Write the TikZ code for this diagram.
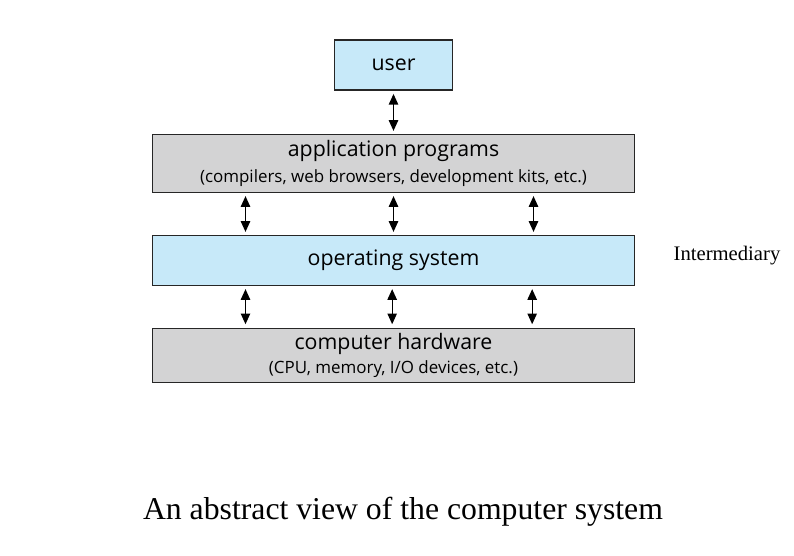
\documentclass[tikz,border=0pt]{standalone}
\usepackage{fontspec}
\setmainfont{Liberation Serif}
\newfontfamily\boxfont{Open Sans}
\usetikzlibrary{positioning,arrows.meta}
\definecolor{layerblue}{RGB}{199,233,249}
\definecolor{layergray}{RGB}{211,211,212}
\tikzset{layer/.style={draw=black!85,line width=0.9pt,minimum width=362pt,align=center,font=\boxfont\fontsize{16}{17}\selectfont},
         blue layer/.style={layer,fill=layerblue},
         gray layer/.style={layer,fill=layergray},
         link/.style={{Triangle[length=8pt,width=7pt]}-{Triangle[length=8pt,width=7pt]},line width=1pt,shorten <=2.5pt,shorten >=2.5pt},
         }
\newcommand{\sublabel}[1]{{\fontsize{12.7}{14}\selectfont #1}}

\begin{document}
\begin{tikzpicture}[x=0.75pt,y=-0.75pt]
    \useasboundingbox (0,0) rectangle (794,556);
    \node[blue layer,minimum width=89pt,minimum height=37.5pt] (user) at (393.5,65) {\raisebox{-1.5pt}{user}};
    \node[gray layer,minimum height=43pt] (apps) at (393.5,163.5) {application programs\\[3pt]\sublabel{(compilers, web browsers, development kits, etc.)}};
    \node[blue layer,minimum height=37pt] (os) at (393.5,260.5) {operating system};
    \node[gray layer,minimum height=41pt] (hw) at (393.5,355.5) {computer hardware\\[1pt]\sublabel{(CPU, memory, I/O devices, etc.)}};

    \node[font=\fontsize{15.5}{17}\selectfont] (mid) at (727,256) {Intermediary};
    \node[font=\fontsize{23.8}{26}\selectfont] (caption) at (403,512) {An abstract view of the computer system};

    \draw[link] (user) -- (apps);
    \draw[link] ([xshift=-111pt]apps.south) -- ([xshift=-111pt]os.north);
    \draw[link] (apps) -- (os);
    \draw[link] ([xshift=105pt]apps.south) -- ([xshift=105pt]os.north);
    \draw[link] ([xshift=-111pt]os.south) -- ([xshift=-111pt]hw.north);
    \draw[link] ([xshift=-1pt]os.south) -- ([xshift=-1pt]hw.north);
    \draw[link] ([xshift=104pt]os.south) -- ([xshift=104pt]hw.north);
    %%
\end{tikzpicture}
\end{document}
